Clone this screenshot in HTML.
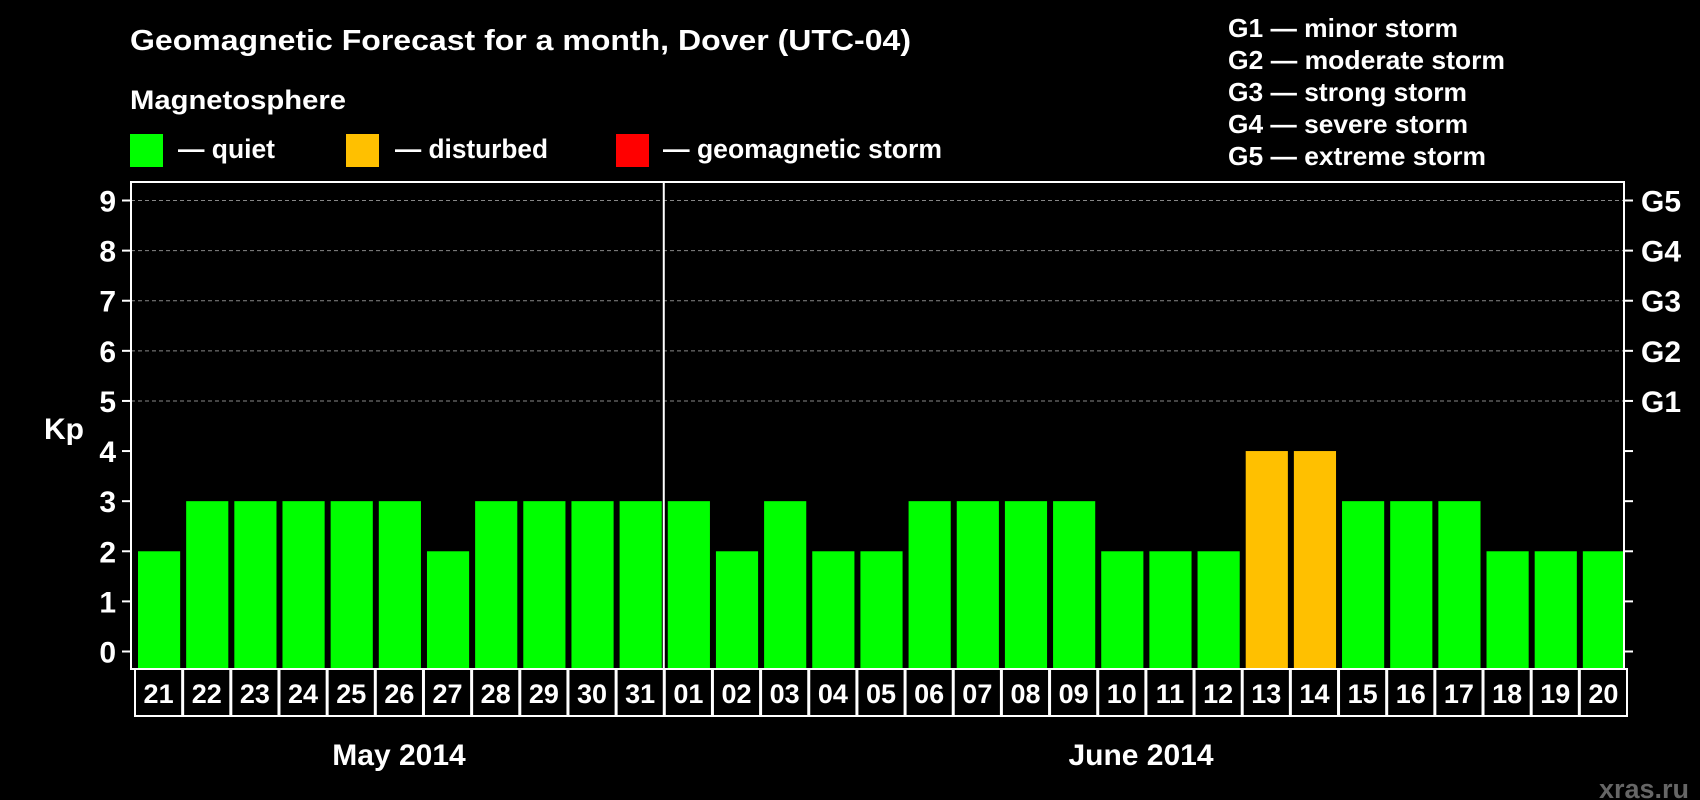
<!DOCTYPE html>
<html><head><meta charset="utf-8"><style>
html,body{margin:0;padding:0;background:#000;}
svg{display:block;font-family:"Liberation Sans",Arial,sans-serif;font-weight:bold;}
</style></head><body>
<svg id="chart" width="1700" height="800" viewBox="0 0 1700 800" xmlns="http://www.w3.org/2000/svg">
<rect width="1700" height="800" fill="#000"/>
<text x="130" y="50" fill="#fff" font-size="29" textLength="781" lengthAdjust="spacingAndGlyphs">Geomagnetic Forecast for a month, Dover (UTC-04)</text>
<text x="130" y="109" fill="#fff" font-size="27" textLength="216" lengthAdjust="spacingAndGlyphs">Magnetosphere</text>
<rect x="130" y="134" width="33" height="33" fill="#00ff00"/>
<text x="178" y="158" fill="#fff" font-size="27" textLength="97" lengthAdjust="spacingAndGlyphs">— quiet</text>
<rect x="346" y="134" width="33" height="33" fill="#ffc000"/>
<text x="395" y="158" fill="#fff" font-size="27" textLength="153" lengthAdjust="spacingAndGlyphs">— disturbed</text>
<rect x="616" y="134" width="33" height="33" fill="#ff0000"/>
<text x="663" y="158" fill="#fff" font-size="27" textLength="279" lengthAdjust="spacingAndGlyphs">— geomagnetic storm</text>
<g fill="#fff" font-size="26">
<text x="1228" y="37" textLength="230" lengthAdjust="spacingAndGlyphs">G1 — minor storm</text>
<text x="1228" y="69" textLength="277" lengthAdjust="spacingAndGlyphs">G2 — moderate storm</text>
<text x="1228" y="101" textLength="239" lengthAdjust="spacingAndGlyphs">G3 — strong storm</text>
<text x="1228" y="133" textLength="240" lengthAdjust="spacingAndGlyphs">G4 — severe storm</text>
<text x="1228" y="165" textLength="258" lengthAdjust="spacingAndGlyphs">G5 — extreme storm</text>
</g>
<text x="64" y="439" fill="#fff" font-size="30" text-anchor="middle">Kp</text>
<g id="grid"></g>
<g id="bars"></g>
<g id="axes"></g>
<text x="399" y="765" fill="#fff" font-size="30" text-anchor="middle">May 2014</text>
<text x="1141" y="765" fill="#fff" font-size="30" text-anchor="middle">June 2014</text>
<text x="1689" y="798" fill="#666" font-size="27" text-anchor="end">xras.ru</text>
</svg>
<script>
const days = ["21","22","23","24","25","26","27","28","29","30","31","01","02","03","04","05","06","07","08","09","10","11","12","13","14","15","16","17","18","19","20"];
const kpValues = [2,3,3,3,3,3,2,3,3,3,3,3,2,3,2,2,3,3,3,3,2,2,2,4,4,3,3,3,2,2,2];
const yTicks = [0,1,2,3,4,5,6,7,8,9];
const gLabels = ["G1","G2","G3","G4","G5"];
const gLevels = [5,6,7,8,9];
const monthBreakIndex = 11;

const NS = "http://www.w3.org/2000/svg";
const L = 131, R = 1624, T = 182, B = 669;
const y0 = 651.5, y9 = 200.5;
const yScale = v => y0 - (y0 - y9) * v / 9;
const slot = (R - L) / days.length;
const xScale = i => L + i * slot;
function mk(tag, attrs, parent) {
  const e = document.createElementNS(NS, tag);
  for (const k in attrs) e.setAttribute(k, attrs[k]);
  parent.appendChild(e);
  return e;
}
const grid = document.getElementById("grid");
const bars = document.getElementById("bars");
const axes = document.getElementById("axes");

yTicks.forEach(t => {
  const y = yScale(t);
  if (t >= 5) {
    const g = mk("line", {x1: L, x2: R, y1: y, y2: y, stroke: "#888", "stroke-width": 1, "stroke-dasharray": "4,3"}, grid);
    
    
  }
  const tl = mk("line", {x1: L - 9, x2: L, y1: y, y2: y, stroke: "#fff", "stroke-width": 2}, axes);
  
  
  const tr = mk("line", {x1: R, x2: R + 9, y1: y, y2: y, stroke: "#fff", "stroke-width": 2}, axes);
  
  
  const lb = mk("text", {x: 116, y: y + 11, fill: "#fff", "font-size": 30, "text-anchor": "end"}, axes);
  lb.textContent = t;
  
  
});
gLabels.forEach((g, i) => {
  const t = mk("text", {x: 1641, y: yScale(gLevels[i]) + 11, fill: "#fff", "font-size": 30}, axes);
  t.textContent = g;
  
  
});
kpValues.forEach((v, i) => {
  const color = v >= 5 ? "#ff0000" : (v >= 4 ? "#ffc000" : "#00ff00");
  const b = mk("rect", {x: xScale(i) + 7, y: yScale(v), width: slot - 6, height: B - yScale(v), fill: color}, bars);
  
  
  const box = mk("rect", {x: xScale(i) + 4, y: B, width: slot - 1, height: 47, fill: "none", stroke: "#fff", "stroke-width": 2}, axes);
  
  
  const dl = mk("text", {x: xScale(i) + 4 + (slot - 1) / 2, y: B + 34, fill: "#fff", "font-size": 27, "text-anchor": "middle"}, axes);
  dl.textContent = days[i];
  
  
});
const frame = mk("rect", {x: L, y: T, width: R - L, height: B - T, fill: "none", stroke: "#fff", "stroke-width": 2}, axes);


const mx = xScale(monthBreakIndex) + 3;
const ml = mk("line", {x1: mx, x2: mx, y1: T, y2: B, stroke: "#fff", "stroke-width": 2}, axes);


</script>
</body></html>
